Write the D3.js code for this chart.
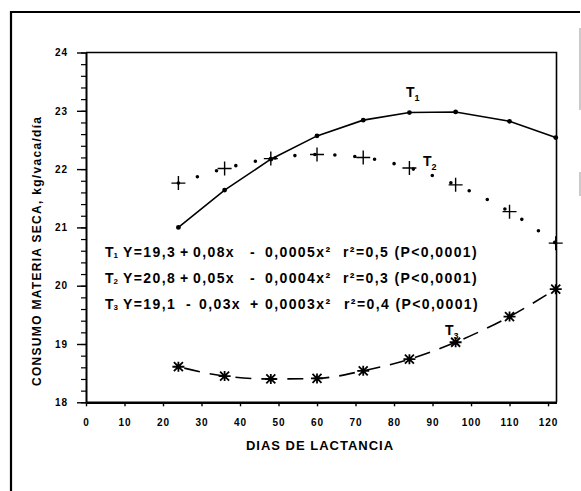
<!DOCTYPE html>
<html>
  <head>
    <meta charset="utf-8">
    <title>Consumo materia seca</title>
    <style>
      body {
        margin: 0;
        padding: 0;
        background: #fff;
        font-family: 'Liberation Sans', Arial, sans-serif;
      }
      #chart {
        width: 581px;
        height: 491px;
      }
      text { font-weight: bold; fill: #000; }
    </style>
  </head>
  <body>
    <div id="chart"></div>

    <script src="https://cdnjs.cloudflare.com/ajax/libs/d3/7.8.5/d3.min.js"></script>
    <script>
      // Data
      const days = [24, 36, 48, 60, 72, 84, 96, 110, 122];
      const t1 = [21.0, 21.64, 22.17, 22.57, 22.84, 22.97, 22.98, 22.82, 22.54];
      const t2 = [21.76, 22.01, 22.18, 22.25, 22.2, 22.02, 21.73, 21.27, 20.73];
      const t3 = [18.61, 18.45, 18.4, 18.41, 18.54, 18.74, 19.03, 19.47, 19.94];
      const xTicks = [0, 10, 20, 30, 40, 50, 60, 70, 80, 90, 100, 110, 120];
      const yTicks = [18, 19, 20, 21, 22, 23, 24];
      const seriesNames = ["1", "2", "3"];
      const equations = [
        ["Y=19,3", "+", "0,08x", "-", "0,0005x²", "r²=0,5 (P<0,0001)"],
        ["Y=20,8", "+", "0,05x", "-", "0,0004x²", "r²=0,3 (P<0,0001)"],
        ["Y=19,1", "-", "0,03x", "+", "0,0003x²", "r²=0,4 (P<0,0001)"]
      ];

      const svg = d3.select('#chart')
                    .append('svg')
                    .attr('width', 581)
                    .attr('height', 491);

      // outer frame (scanned page border)
      svg.append('path')
         .attr('d', 'M11,491 V12 H580')
         .attr('fill', 'none')
         .attr('stroke', '#000')
         .attr('stroke-width', 2.2);
      svg.append('path')
         .attr('d', 'M580,28 V110 M580,172 V196')
         .attr('stroke', '#bbb')
         .attr('stroke-width', 1.5);

      const x = d3.scaleLinear().domain([0, 122.2]).range([86, 556.5]);
      const y = d3.scaleLinear().domain([18, 24]).range([402.3, 52.5]);

      // plot box top and right
      svg.append('path')
         .attr('d', `M${x(0)},${y(24)} H${x(122.2)} V${y(18)}`)
         .attr('fill', 'none')
         .attr('stroke', '#000')
         .attr('stroke-width', 1.6);

      // y axis minor ticks
      const minor = d3.range(18, 24.01, 0.2).map(v => +v.toFixed(1));
      svg.append('g')
         .attr('transform', `translate(${x(0)},0)`)
         .call(d3.axisLeft(y).tickValues(minor).tickSize(5).tickFormat(''))
         .call(g => g.select('.domain').remove())
         .selectAll('line').attr('stroke-width', 1.2);

      // y axis
      svg.append('g')
         .attr('transform', `translate(${x(0)},0)`)
         .call(d3.axisLeft(y).tickValues(yTicks).tickFormat(d3.format('d'))
                 .tickSize(9).tickPadding(9).tickSizeOuter(0))
         .call(g => g.select('.domain').attr('stroke-width', 2))
         .call(g => g.selectAll('line').attr('stroke-width', 1.4))
         .call(g => g.selectAll('text')
                     .attr('font-size', 10)
                     .attr('letter-spacing', 1)
                     .attr('font-family', "'Liberation Sans', Arial, sans-serif"));

      // x axis
      svg.append('g')
         .attr('transform', `translate(0,${y(18)})`)
         .call(d3.axisBottom(x).tickValues(xTicks).tickSize(4).tickPadding(13).tickSizeOuter(0))
         .call(g => g.select('.domain').attr('stroke-width', 2.4))
         .call(g => g.selectAll('line').attr('stroke-width', 1.4))
         .call(g => g.selectAll('text')
                     .attr('font-size', 10)
                     .attr('letter-spacing', 1)
                     .attr('font-family', "'Liberation Sans', Arial, sans-serif"));

      // axis titles
      svg.append('text')
         .attr('x', 320).attr('y', 450)
         .attr('text-anchor', 'middle')
         .attr('font-size', 13)
         .attr('letter-spacing', 1)
         .text('DIAS DE LACTANCIA');

      svg.append('text')
         .attr('transform', 'translate(41,386) rotate(-90)')
         .attr('font-size', 12)
         .attr('letter-spacing', 1.3)
         .text('CONSUMO MATERIA SECA, kg/vaca/día');

      const pts = s => days.map((d, i) => [d, s[i]]);

      // T1: solid line with dots
      svg.append('path')
         .datum(pts(t1))
         .attr('fill', 'none')
         .attr('stroke', '#000')
         .attr('stroke-width', 1.6)
         .attr('d', d3.line().x(d => x(d[0])).y(d => y(d[1])));
      svg.selectAll('.t1dot')
         .data(pts(t1))
         .enter().append('circle')
         .attr('cx', d => x(d[0])).attr('cy', d => y(d[1]))
         .attr('r', 2.4);

      // T2: dotted curve with plus markers
      svg.append('path')
         .datum(pts(t2))
         .attr('fill', 'none')
         .attr('stroke', '#000')
         .attr('stroke-width', 3.6)
         .attr('stroke-linecap', 'round')
         .attr('stroke-dasharray', '0,20')
         .attr('d', d3.line().curve(d3.curveMonotoneX).x(d => x(d[0])).y(d => y(d[1])));
      svg.selectAll('.t2mark')
         .data(pts(t2))
         .enter().append('path')
         .attr('transform', d => `translate(${x(d[0])},${y(d[1])})`)
         .attr('d', 'M-7,0H7M0,-7V7')
         .attr('stroke', '#000')
         .attr('stroke-width', 1.4);

      // T3: dashed line with asterisk markers
      svg.append('path')
         .datum(pts(t3))
         .attr('fill', 'none')
         .attr('stroke', '#000')
         .attr('stroke-width', 1.6)
         .attr('stroke-dasharray', '16,10')
         .attr('stroke-dashoffset', -6)
         .attr('d', d3.line().curve(d3.curveMonotoneX).x(d => x(d[0])).y(d => y(d[1])));
      svg.selectAll('.t3mark')
         .data(pts(t3))
         .enter().append('path')
         .attr('transform', d => `translate(${x(d[0])},${y(d[1])})`)
         .attr('d', 'M-6,0H6M-4.5,-4.5L4.5,4.5M-4.5,4.5L4.5,-4.5M0,-5V5')
         .attr('stroke', '#000')
         .attr('stroke-width', 1.8);

      // series labels
      const labelPos = [[406, 97], [423, 166], [445, 335]];
      seriesNames.forEach((n, i) => {
        const t = svg.append('text')
                     .attr('x', labelPos[i][0]).attr('y', labelPos[i][1])
                     .attr('font-size', 14);
        t.append('tspan').text('T');
        t.append('tspan').attr('font-size', 9).attr('dy', 4).text(n);
      });

      // regression equations
      const eqX = [123, 180, 193, 250, 265, 343];
      const eqX3 = [123, 186, 199, 250, 265, 344];
      const eqY = [256.5, 283, 308.5];
      equations.forEach((terms, i) => {
        const g = svg.append('g');
        const lbl = g.append('text')
                     .attr('x', 105).attr('y', eqY[i])
                     .attr('font-size', 14);
        lbl.append('tspan').text('T');
        lbl.append('tspan').attr('font-size', 8).attr('dy', 1).text(seriesNames[i]);
        const xs = i === 2 ? eqX3 : eqX;
        terms.forEach((s, j) => {
          g.append('text')
           .attr('x', xs[j]).attr('y', eqY[i])
           .attr('font-size', 14)
           .attr('letter-spacing', 1.4)
           .text(s);
        });
      });
    </script>
  </body>
</html>
